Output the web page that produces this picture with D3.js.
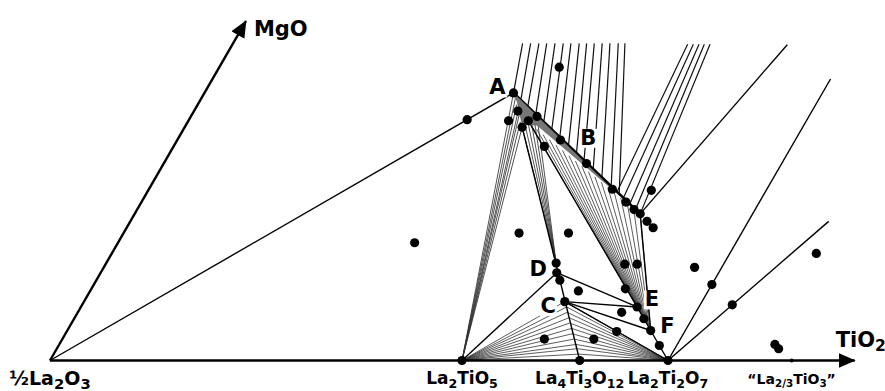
<!DOCTYPE html>
<html>
<head>
<meta charset="utf-8">
<script src="https://cdn.jsdelivr.net/npm/d3@7"></script>
<style>
  html, body { margin: 0; padding: 0; background: #fff; }
  svg { display: block; }
  text { font-family: "DejaVu Sans", Verdana, sans-serif; font-weight: bold; fill: #000; }
</style>
</head>
<body>
<svg id="chart" width="885" height="391"></svg>
<script>
// Compositions are mole fractions [TiO2, MgO]; the balance is LaO1.5.

// Binary compounds on the LaO1.5 – TiO2 join
const baseCompounds = [
  { label: "La_2TiO_5",    t: 1 / 3 },
  { label: "La_4Ti_3O_12", t: 3 / 7 },
  { label: "La_2Ti_2O_7",  t: 0.5 }
];
const perovskite = { label: "\u201CLa_{2/3}TiO_3\u201D", t: 0.6 };
const endMember = { label: "\u00BDLa_2O_3", comp: [0, 0] };

// Axis arrows
const axisEnds = [
  { label: "TiO_2", comp: [0.651, 0] },
  { label: "MgO",   comp: [0, 0.317] }
];

// Invariant / field letters and where they sit
const fieldLabels = [
  { label: "A", comp: [0.234, 0.256] },
  { label: "B", comp: [0.331, 0.209] },
  { label: "C", comp: [0.377, 0.052] },
  { label: "D", comp: [0.352, 0.086] },
  { label: "E", comp: [0.458, 0.058] },
  { label: "F", comp: [0.483, 0.033] }
];

// Boundary and tie lines drawn individually
const boundaryLines = [
  [[0, 0],         [0.25, 0.25]],
  [[0.5, 0],       [0.5, 0.263]],
  [[0.5, 0],       [0.565, 0.130]],
  [[0.409, 0.137], [0.449, 0.295]],
  [[0.273, 0.218], [3 / 7, 0]],
  [[1 / 3, 0],     [0.369, 0.082]],
  [[0.369, 0.082], [0.45, 0.05]],
  [[0.389, 0.055], [0.45, 0.05]],
  [[0.389, 0.055], [0.472, 0.028]],
  [[0.389, 0.055], [0.5, 0]],
  [[0.45, 0.05],   [0.5, 0]],
  [[0.278, 0.221], [0.45, 0.05]],
  [[0.409, 0.137], [0.472, 0.028]]
];

// Heavy liquidus boundary A – J
const heavyBoundary = [[0.25, 0.25], [0.409, 0.137]];

// Shaded sliver below A
const shadedField = [[0.25, 0.25], [0.375, 0.160], [0.284, 0.220], [0.278, 0.220], [0.270, 0.223], [0.257, 0.242]];

// Tie-line bundles: [start, end]
const tiesToMgO = [
  [[0.250, 0.250], [0.2342, 0.2963]],
  [[0.259, 0.244], [0.2407, 0.2963]],
  [[0.268, 0.237], [0.2474, 0.2963]],
  [[0.278, 0.230], [0.2537, 0.2963]],
  [[0.288, 0.223], [0.2604, 0.2963]],
  [[0.298, 0.216], [0.2671, 0.2963]],
  [[0.308, 0.209], [0.2733, 0.2963]],
  [[0.319, 0.201], [0.2800, 0.2963]],
  [[0.329, 0.194], [0.2860, 0.2963]],
  [[0.339, 0.186], [0.2922, 0.2963]],
  [[0.350, 0.179], [0.2986, 0.2963]],
  [[0.361, 0.171], [0.3049, 0.2963]],
  [[0.373, 0.162], [0.3116, 0.2963]],
  [[0.383, 0.155], [0.3170, 0.2963]]
];
const tiesUpperRight = [
  [[0.380, 0.157], [0.3682, 0.2954]],
  [[0.388, 0.152], [0.3728, 0.2954]],
  [[0.396, 0.146], [0.3774, 0.2954]],
  [[0.403, 0.142], [0.3817, 0.2954]],
  [[0.409, 0.137], [0.3863, 0.2954]]
];
const tiesLa2TiO5ToA = [
  [0.250, 0.250], [0.254, 0.245], [0.258, 0.239], [0.262, 0.234],
  [0.265, 0.229], [0.269, 0.223], [0.273, 0.218]
];
const tiesDtoA = [
  [0.273, 0.218], [0.2744, 0.220], [0.2758, 0.222], [0.2772, 0.224], [0.2786, 0.226], [0.280, 0.228]
];
const tiesBtoEF = [
  [[0.2780, 0.2210], [0.4500, 0.0500]],
  [[0.2857, 0.2161], [0.4513, 0.0487]],
  [[0.2934, 0.2111], [0.4526, 0.0474]],
  [[0.3011, 0.2062], [0.4539, 0.0461]],
  [[0.3088, 0.2012], [0.4552, 0.0448]],
  [[0.3165, 0.1963], [0.4565, 0.0435]],
  [[0.3242, 0.1914], [0.4578, 0.0422]],
  [[0.3319, 0.1864], [0.4591, 0.0409]],
  [[0.3396, 0.1815], [0.4604, 0.0396]],
  [[0.3474, 0.1765], [0.4616, 0.0384]],
  [[0.3551, 0.1716], [0.4629, 0.0371]],
  [[0.3628, 0.1666], [0.4642, 0.0358]],
  [[0.3705, 0.1617], [0.4655, 0.0345]],
  [[0.3782, 0.1568], [0.4668, 0.0332]],
  [[0.3859, 0.1518], [0.4681, 0.0319]],
  [[0.3936, 0.1469], [0.4694, 0.0306]],
  [[0.4013, 0.1419], [0.4707, 0.0293]],
  [[0.4090, 0.1370], [0.4720, 0.0280]]
];
// Liquid compositions along C – La4Ti3O12 joined to La2TiO5 and La2Ti2O7
const liquidCtoLa4 = [
  [0.389, 0.055], [0.393, 0.050], [0.396, 0.045], [0.400, 0.040], [0.403, 0.035],
  [0.407, 0.030], [0.410, 0.025], [0.414, 0.020], [0.418, 0.015], [0.421, 0.011], [0.425, 0.006]
];

// Analysed sample compositions
const samples = [
  [0.225, 0.225], [0.240, 0.110], [0.250, 0.250], [0.262, 0.233], [0.259, 0.224], [0.275, 0.224],
  [0.280, 0.228], [0.273, 0.218], [0.300, 0.200], [0.310, 0.206], [0.275, 0.274], [0.342, 0.184],
  [0.375, 0.160], [0.392, 0.148], [0.402, 0.141], [0.409, 0.137], [0.418, 0.130], [0.426, 0.124],
  [0.407, 0.159], [0.320, 0.119], [0.360, 0.119], [0.364, 0.091], [0.369, 0.082], [0.375, 0.075],
  [0.395, 0.065], [0.389, 0.055], [0.420, 0.090], [0.430, 0.090], [0.432, 0.067], [0.450, 0.050],
  [0.440, 0.045], [0.461, 0.039], [0.445, 0.027], [0.472, 0.028], [0.486, 0.014], [0.390, 0.020],
  [0.430, 0.020], [0.478, 0.087], [0.500, 0.071], [0.526, 0.052], [0.570, 0.100], [0.579, 0.015],
  [0.584, 0.011]
];

// ---------------------------------------------------------------
const svg = d3.select("#chart");

// Equilateral ternary projection
const side = 1236;
const hScale = d3.scaleLinear().domain([0, 1]).range([50, 50 + side]);
const vScale = d3.scaleLinear().domain([0, 1]).range([360.5, 360.5 - side * Math.sqrt(3) / 2]);
const P = ([t, m]) => [hScale(t + m / 2), vScale(m)];

function drawRich(sel, str, size, subRatio = 0.74, shiftRatio = 0.24) {
  const re = /_\{([^}]*)\}|_(\d+)/g;
  const subSize = size * subRatio, shift = size * shiftRatio;
  let last = 0, m, down = false;
  const put = (s, sub) => {
    if (!s) return;
    const ts = sel.append("tspan").text(s).attr("font-size", sub ? subSize : size);
    if (sub && !down) { ts.attr("dy", shift); down = true; }
    else if (!sub && down) { ts.attr("dy", -shift); down = false; }
  };
  while ((m = re.exec(str)) !== null) {
    put(str.slice(last, m.index), false);
    put(m[1] || m[2], true);
    last = re.lastIndex;
  }
  put(str.slice(last), false);
}

function segs(g, data, width, color) {
  g.selectAll(null).data(data).join("line")
    .attr("x1", d => P(d[0])[0]).attr("y1", d => P(d[0])[1])
    .attr("x2", d => P(d[1])[0]).attr("y2", d => P(d[1])[1])
    .attr("stroke", color).attr("stroke-width", width);
}

// Arrow marker
const defs = svg.append("defs");
defs.append("marker").attr("id", "arrow")
  .attr("markerUnits", "userSpaceOnUse")
  .attr("viewBox", "0 -8 17 16").attr("refX", 16).attr("refY", 0)
  .attr("markerWidth", 17).attr("markerHeight", 16).attr("orient", "auto")
  .append("path").attr("d", "M0,-7.5L17,0L0,7.5Z").attr("fill", "#000");

const gTies = svg.append("g");
segs(gTies, tiesToMgO, 1.2, "#111");
segs(gTies, tiesUpperRight, 1.2, "#111");
segs(gTies, tiesLa2TiO5ToA.map(p => [[1 / 3, 0], p]), 0.85, "#333");
segs(gTies, tiesDtoA.map(p => [[0.364, 0.091], p]), 0.85, "#333");
segs(gTies, tiesBtoEF, 0.8, "#333");
segs(gTies, liquidCtoLa4.map(p => [[1 / 3, 0], p]), 0.8, "#333");
segs(gTies, liquidCtoLa4.map(p => [[0.5, 0], p]), 0.8, "#333");

const gLines = svg.append("g");
segs(gLines, boundaryLines, 1.4, "#000");

svg.append("path")
  .attr("d", d3.line()(shadedField.map(P)) + "Z")
  .attr("fill", "#777").attr("stroke", "#555").attr("stroke-width", 0.6);
segs(gLines, [heavyBoundary], 2.7, "#000");

// Axes
const origin = P(endMember.comp);
svg.append("g").selectAll("line").data(axisEnds).join("line")
  .attr("x1", origin[0]).attr("y1", origin[1])
  .attr("x2", d => P(d.comp)[0]).attr("y2", d => P(d.comp)[1])
  .attr("stroke", "#000").attr("stroke-width", 2.4)
  .attr("marker-end", "url(#arrow)");

// Field letters with white backing
const gLetters = svg.append("g");
fieldLabels.forEach(d => {
  const [x, y] = P(d.comp);
  const g = gLetters.append("g");
  const t = g.append("text").attr("x", x).attr("y", y + 8)
    .attr("text-anchor", "middle").attr("font-size", 21).text(d.label);
  const bb = t.node().getBBox();
  g.insert("rect", "text").attr("x", bb.x - 1).attr("y", bb.y + 3)
    .attr("width", bb.width + 2).attr("height", bb.height - 5).attr("fill", "#fff");
});

// Sample points
svg.append("g").selectAll("circle").data(samples).join("circle")
  .attr("cx", d => P(d)[0]).attr("cy", d => P(d)[1]).attr("r", 4.6).attr("fill", "#000");

// Compounds on the base line
svg.append("g").selectAll("circle").data(baseCompounds).join("circle")
  .attr("cx", d => P([d.t, 0])[0]).attr("cy", d => P([d.t, 0])[1]).attr("r", 4.6).attr("fill", "#000");
svg.append("circle").attr("cx", P([perovskite.t, 0])[0]).attr("cy", P([perovskite.t, 0])[1])
  .attr("r", 2).attr("fill", "#000");

// Text labels
baseCompounds.forEach(d => {
  const t = svg.append("text").attr("x", P([d.t, 0])[0]).attr("y", 384)
    .attr("text-anchor", "middle");
  drawRich(t, d.label, 17);
});
{
  const t = svg.append("text").attr("x", P([perovskite.t, 0])[0]).attr("y", 384)
    .attr("text-anchor", "middle");
  drawRich(t, perovskite.label, 14);
}
{
  const t = svg.append("text").attr("x", origin[0]).attr("y", 385).attr("text-anchor", "middle");
  drawRich(t, endMember.label, 19, 0.78, 0.2);
}
{
  const tEnd = P(axisEnds[0].comp);
  const t = svg.append("text").attr("x", tEnd[0] - 19).attr("y", 347);
  drawRich(t, axisEnds[0].label, 21, 0.74, 0.2);
  const mEnd = P(axisEnds[1].comp);
  const t2 = svg.append("text").attr("x", mEnd[0] + 8).attr("y", 36);
  drawRich(t2, axisEnds[1].label, 21);
}
</script>
</body>
</html>
